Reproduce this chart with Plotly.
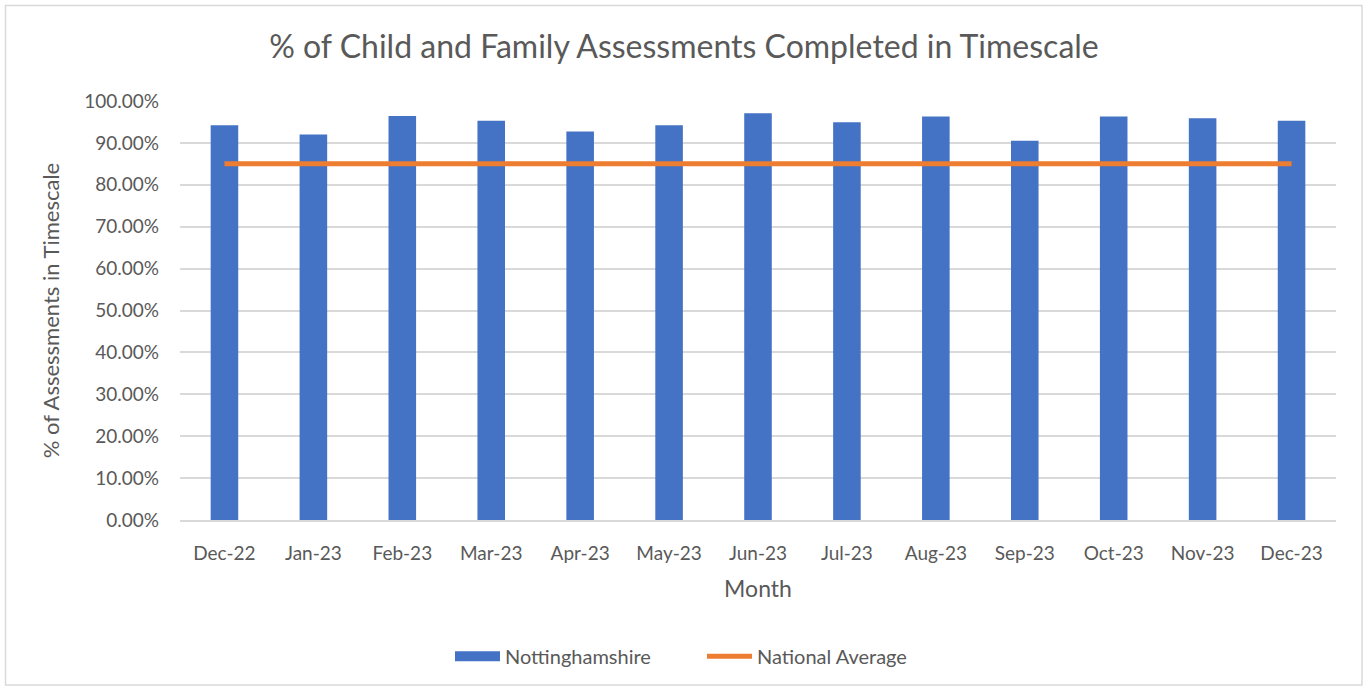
import plotly.graph_objects as go

months = ["Dec-22", "Jan-23", "Feb-23", "Mar-23", "Apr-23", "May-23", "Jun-23",
          "Jul-23", "Aug-23", "Sep-23", "Oct-23", "Nov-23", "Dec-23"]
nottinghamshire = [0.942, 0.920, 0.964, 0.953, 0.927, 0.942, 0.971,
                   0.949, 0.963, 0.905, 0.963, 0.959, 0.953]
national_average = [0.85] * len(months)

FONT = "Lato"
GREY = "#595959"
BLUE = "#4472C4"
ORANGE = "#ED7D31"

fig = go.Figure()
fig.add_trace(go.Bar(x=months, y=nottinghamshire, name="Nottinghamshire",
                     marker=dict(color=BLUE, line=dict(width=0)), showlegend=False))
# legend entry drawn as a wide block, like the reference
fig.add_trace(go.Scatter(x=[None], y=[None], name="Nottinghamshire", mode="lines",
                         line=dict(color=BLUE, width=14)))
fig.add_trace(go.Scatter(x=months, y=national_average, name="National Average",
                         mode="lines", line=dict(color=ORANGE, width=5)))

fig.update_layout(
    width=1368, height=690,
    paper_bgcolor="white", plot_bgcolor="white",
    margin=dict(l=180, r=32, t=101, b=170),
    bargap=0.69,
    font=dict(family=FONT, color=GREY),
    title=dict(text="% of Child and Family Assessments Completed in Timescale",
               x=0.5, xanchor="center", y=0.932, yanchor="middle",
               font=dict(size=32, color=GREY, family=FONT)),
    legend=dict(orientation="h", x=(450 - 180) / 1156, xanchor="left", y=-0.325, yanchor="middle",
                font=dict(size=20, color=GREY), itemwidth=45, traceorder="normal",
                entrywidth=192, entrywidthmode="pixels"),
    showlegend=True,
)
fig.update_xaxes(title=dict(text="Month", font=dict(size=23, color=GREY), standoff=18),
                 tickfont=dict(size=19, color=GREY), showgrid=False,
                 showline=True, linecolor="#D9D9D9", linewidth=1.5, ticks="",
                 ticklabelstandoff=15)
fig.update_yaxes(title=dict(text="% of Assessments in Timescale", font=dict(size=22, color=GREY), standoff=18),
                 tickfont=dict(size=19, color=GREY), range=[0, 1], dtick=0.1,
                 tickformat=".2%", showgrid=True, gridcolor="#D9D9D9", gridwidth=1.5,
                 zeroline=False, ticklabelstandoff=20)

# chart border
fig.add_shape(type="rect", xref="paper", yref="paper",
              x0=(5.5 - 180) / 1156, x1=(1362 - 180) / 1156,
              y0=(520 - 685) / 419, y1=(520 - 5.5) / 419,
              line=dict(color="#D9D9D9", width=1.5), fillcolor="rgba(0,0,0,0)", layer="below")

fig.write_html("out.html", config={"displayModeBar": False},
               post_script="document.body.style.margin='0';")
